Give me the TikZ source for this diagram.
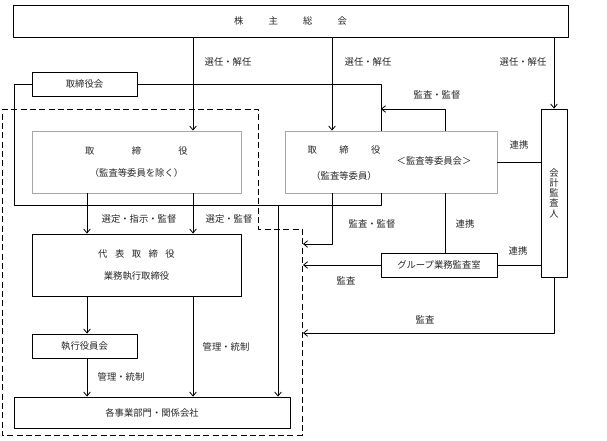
\documentclass[tikz,border=0pt]{standalone}
\usepackage{fontspec}
\setmainfont{Noto Sans CJK JP}
\usetikzlibrary{arrows.meta}
\begin{document}
\begin{tikzpicture}[x=0.75pt,y=-0.75pt,>={Straight Barb[length=3pt,width=5pt]},line join=round,
	line width=0.6pt,font=\fontsize{7}{8.5}\selectfont,
	box/.style={draw,rectangle,inner sep=0pt,text=black!85},
	graybox/.style={draw=black!35,rectangle,inner sep=0pt,text=black!85},
	lbl/.style={inner sep=0pt,text=black!85}]
	\useasboundingbox (0,0) rectangle (607,441);
	% boxes
	\node[box,minimum width=416.25pt,minimum height=24pt] (meeting) at (290.5,21) {株\hspace{2.7em}主\hspace{2.7em}総\hspace{2.7em}会};
	\node[box,minimum width=78.75pt,minimum height=18pt] (board) at (84.5,84) {取締役会};
	\node[graybox,minimum width=156.75pt,minimum height=46.5pt,align=center] (dir) at (136.5,162) {取\hspace{4em}締\hspace{4em}役\\[8.5pt]（監査等委員を除く）};
	\node[graybox,minimum width=159pt,minimum height=46.5pt] (auditdir) at (391,162) {};
	\node[lbl] (auditdir1) at (344,150) {取\hspace{2.4em}締\hspace{2.4em}役};
	\node[lbl] (auditdir2) at (344,176) {（監査等委員）};
	\node[lbl] (auditdir3) at (434,161) {＜監査等委員会＞};
	\node[box,minimum width=156.75pt,minimum height=46.5pt,align=center] (rep) at (136.5,265) {代\hspace{0.8em}表\hspace{0.8em}取\hspace{0.8em}締\hspace{0.8em}役\\[8.5pt]業務執行取締役};
	\node[box,minimum width=78.75pt,minimum height=18pt] (exec) at (84.5,346) {執行役員会};
	\node[box,minimum width=207pt,minimum height=23.25pt] (biz) at (152,412.5) {各事業部門・関係会社};
	\node[box,minimum width=87pt,minimum height=18pt] (group) at (439,265) {グループ業務監査室};
	\node[box,minimum width=19.5pt,minimum height=126pt,align=center,font=\fontsize{7}{7.7}\selectfont] (acct) at (554,193) {会\\計\\監\\査\\人};
	% columns and ends
	\coordinate (colA) at (87,0);
	\coordinate (colB) at (193,0);
	\coordinate (colC) at (278,0);
	\coordinate (colD) at (332,0);
	\coordinate (colE) at (381,0);
	\coordinate (colF) at (445,0);
	\coordinate (leftX) at (14,0);
	\coordinate (loopY) at (0,205);
	\coordinate (sup) at (381,109);
	\coordinate (t1) at (303,244);
	\coordinate (t2) at (303,265);
	\coordinate (t3) at (303,333);
	% dashed area
	\draw[dashed,dash pattern=on 4.5pt off 2.5pt] (2,109) -- (258,109) -- (258,229) -- (302,229) -- (302,435) -- (2,435) -- cycle;
	% connectors
	\draw[->] (meeting.south -| colB) -- (dir.north -| colB);
	\draw[->] (meeting.south -| colD) -- (auditdir.north -| colD);
	\draw[->] (meeting.south -| acct.north) -- (acct.north);
	\draw (board.east) -- (board.east -| colE) -- (auditdir.north -| colE);
	\draw (auditdir.south -| colE) -- (colE |- loopY) -- (leftX |- loopY) -- (leftX |- board.west) -- (board.west);
	\draw[->] (colC |- loopY) -- (biz.north -| colC);
	\draw[->] (auditdir.north -| colF) |- (sup);
	\draw[->] (dir.south -| colA) -- (rep.north -| colA);
	\draw[->] (dir.south -| colB) -- (rep.north -| colB);
	\draw[->] (rep.south -| colA) -- (exec.north -| colA);
	\draw[->] (exec.south -| colA) -- (biz.north -| colA);
	\draw[->] (rep.south -| colB) -- (biz.north -| colB);
	\draw[->] (auditdir.south -| colD) |- (t1);
	\draw (auditdir.south -| colF) -- (group.north -| colF);
	\draw (auditdir.east) -- (auditdir.east -| acct.west);
	\draw[->] (group.west) -- (t2);
	\draw (group.east) -- (group.east -| acct.west);
	\draw[->] (acct.south) |- (t3);
	% labels
	\node[lbl] (l1) at (228,62) {選任・解任};
	\node[lbl] (l2) at (368,62) {選任・解任};
	\node[lbl] (l3) at (523,62) {選任・解任};
	\node[lbl] (l4) at (437,95) {監査・監督};
	\node[lbl] (l5) at (139,219) {選定・指示・監督};
	\node[lbl] (l6) at (229,219) {選定・監督};
	\node[lbl] (l7) at (372,224) {監査・監督};
	\node[lbl] (l8) at (465,224) {連携};
	\node[lbl] (l9) at (519,145) {連携};
	\node[lbl] (l10) at (518,251) {連携};
	\node[lbl] (l11) at (346,281) {監査};
	\node[lbl] (l12) at (425,320) {監査};
	\node[lbl] (l13) at (121,377) {管理・統制};
	\node[lbl] (l14) at (226,347) {管理・統制};
\end{tikzpicture}
\end{document}
